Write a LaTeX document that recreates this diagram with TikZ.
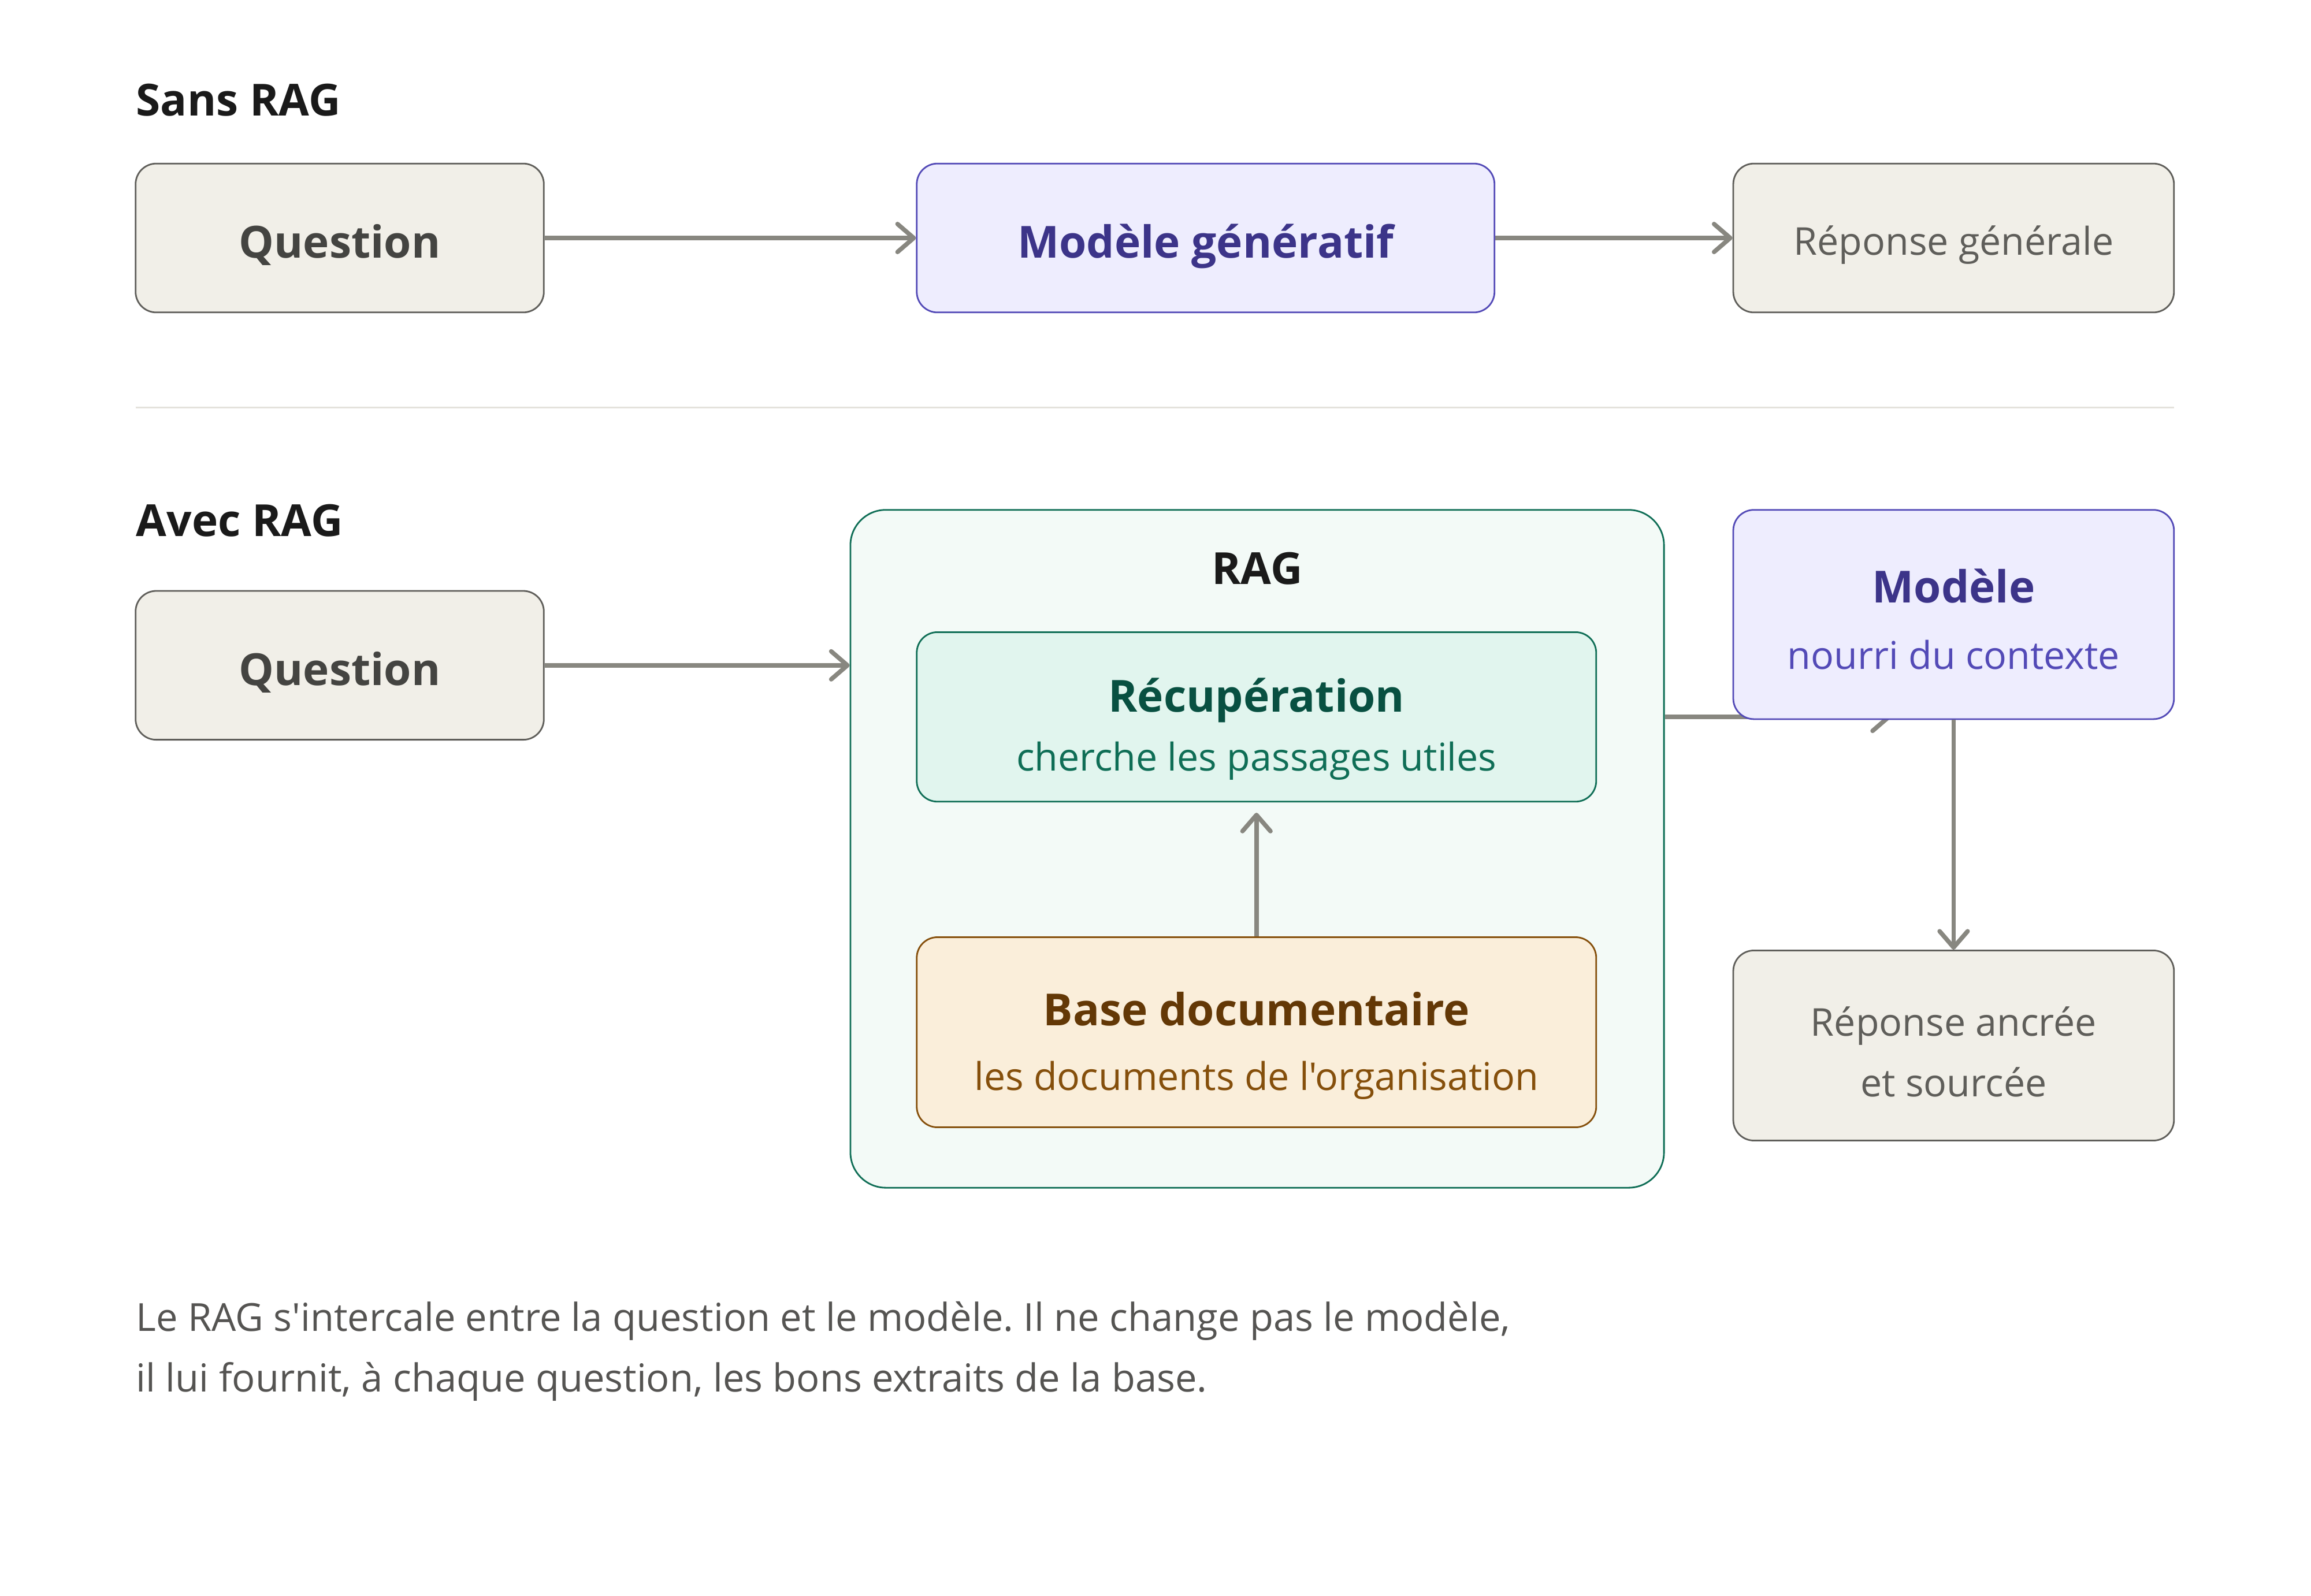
\documentclass[tikz,border=0pt]{standalone}
\usepackage{fontspec}
\setmainfont{Open Sans}[Ligatures=TeXOff]
\usetikzlibrary{arrows.meta}
\definecolor{ink}{HTML}{1A1A1A}
\definecolor{grayfill}{HTML}{F1EFE8}
\definecolor{graydraw}{HTML}{5F5E5A}
\definecolor{graytext}{HTML}{444441}
\definecolor{graysub}{HTML}{5F5E5A}
\definecolor{purfill}{HTML}{EEEDFE}
\definecolor{purdraw}{HTML}{534AB7}
\definecolor{purtext}{HTML}{3C3489}
\definecolor{ragfill}{HTML}{F3FAF7}
\definecolor{grndraw}{HTML}{0F6E56}
\definecolor{grnfill}{HTML}{E1F5EE}
\definecolor{grntext}{HTML}{085041}
\definecolor{ambfill}{HTML}{FAEEDA}
\definecolor{ambdraw}{HTML}{854F0B}
\definecolor{ambtext}{HTML}{633806}
\definecolor{arrowc}{HTML}{888780}
\definecolor{sepc}{HTML}{E4E2DC}
\definecolor{captc}{HTML}{555452}
\frenchspacing
\begin{document}
\begin{tikzpicture}[x=0.5pt,y=-0.5pt,
  box/.style={rectangle, rounded corners=7pt, inner sep=0pt, line width=0.55pt},
  graybox/.style={box, fill=grayfill, draw=graydraw},
  purbox/.style={box, fill=purfill, draw=purdraw},
  grnbox/.style={box, fill=grnfill, draw=grndraw},
  ambbox/.style={box, fill=ambfill, draw=ambdraw},
  ragbox/.style={rectangle, rounded corners=12pt, inner sep=0pt, line width=0.55pt, fill=ragfill, draw=grndraw},
  headt/.style={inner sep=0pt, anchor=base west, text=ink, font=\fontsize{15}{18}\selectfont\bfseries},
  boldt/.style={inner sep=0pt, anchor=base, font=\fontsize{15}{18}\selectfont\bfseries},
  subt/.style={inner sep=0pt, anchor=base, font=\fontsize{13}{16}\selectfont},
  capt/.style={inner sep=0pt, anchor=base west, text=captc, font=\fontsize{13.1}{16}\selectfont\frenchspacing},
  arr/.style={draw=arrowc, line width=1.5pt, -{Straight Barb[length=5.5pt,width=9.5pt,round]}},
  sepline/.style={draw=sepc, line width=0.5pt}
]
\fill[white] (0,0) rectangle (1568,1083);
\useasboundingbox (0,0) rectangle (1568,1083);

% separator
\coordinate (sepL) at (92,276.5);
\coordinate (sepR) at (1475,276.5);
\draw[sepline] (sepL) -- (sepR);

% section titles
\node[headt] (t1) at (92,78.5) {Sans RAG};
\node[headt] (t2) at (92,364) {Avec RAG};

% top row
\node[graybox, minimum width=138.5pt, minimum height=50.5pt] (q1) at (230.5,161.5) {};
\node[boldt, text=graytext] (q1t) at (230.5,175) {Question};
\node[purbox, minimum width=196pt, minimum height=50.5pt] (gen) at (818,161.5) {};
\node[boldt, text=purtext] (gent) at (818,175) {Modèle génératif};
\node[graybox, minimum width=149.5pt, minimum height=50.5pt] (rep1) at (1325.5,161.5) {};
\node[subt, text=graysub] (rep1t) at (1325.5,173) {Réponse générale};
\draw[arr] (q1.east) -- (gen.west);
\draw[arr] (gen.east) -- (rep1.west);

% bottom row
\node[graybox, minimum width=138.5pt, minimum height=50.5pt] (q2) at (230.5,451.5) {};
\node[boldt, text=graytext] (q2t) at (230.5,465) {Question};

\node[ragbox, minimum width=276pt, minimum height=230pt] (rag) at (853,576) {};
\node[boldt, text=ink] (ragt) at (853,396.5) {RAG};

\node[grnbox, minimum width=230.5pt, minimum height=57.5pt] (recup) at (852.5,486.5) {};
\node[boldt, text=grntext] (recupt) at (852.5,483) {Récupération};
\node[subt, text=grndraw] (recups) at (852.5,523) {cherche les passages utiles};

\node[ambbox, minimum width=230.5pt, minimum height=64.5pt] (base) at (852.5,700.5) {};
\node[boldt, text=ambtext] (baset) at (852.5,696) {Base documentaire};
\node[subt, text=ambdraw] (bases) at (852.5,740) {les documents de l'organisation};

\draw[arr] (q2.east) -- (q2.east -| rag.west);
\draw[arr, shorten >=3.5pt] (base.north) -- (recup.south);

% connector partly hidden under the model box
\coordinate (hid) at (1283,486.5);
\draw[arr] (rag.east |- hid) -- (hid);

\node[purbox, minimum width=149.5pt, minimum height=71pt] (mod) at (1325.5,417) {};
\node[boldt, text=purtext] (modt) at (1325.5,409) {Modèle};
\node[subt, text=purdraw] (mods) at (1325.5,454) {nourri du contexte};

\node[graybox, minimum width=149.5pt, minimum height=64.5pt] (rep2) at (1325.5,709.5) {};
\node[subt, text=graysub] (rep2t) at (1325.5,703) {Réponse ancrée};
\node[subt, text=graysub] (rep2s) at (1325.5,744) {et sourcée};
\draw[arr] (mod.south) -- (rep2.north);

% caption
\node[capt] (c1) at (92,903.5) {Le RAG s'intercale entre la question et le modèle. Il ne change pas le modèle,};
\node[capt] (c2) at (92,944.5) {il lui fournit, à chaque question, les bons extraits de la base.};
\end{tikzpicture}
\end{document}
